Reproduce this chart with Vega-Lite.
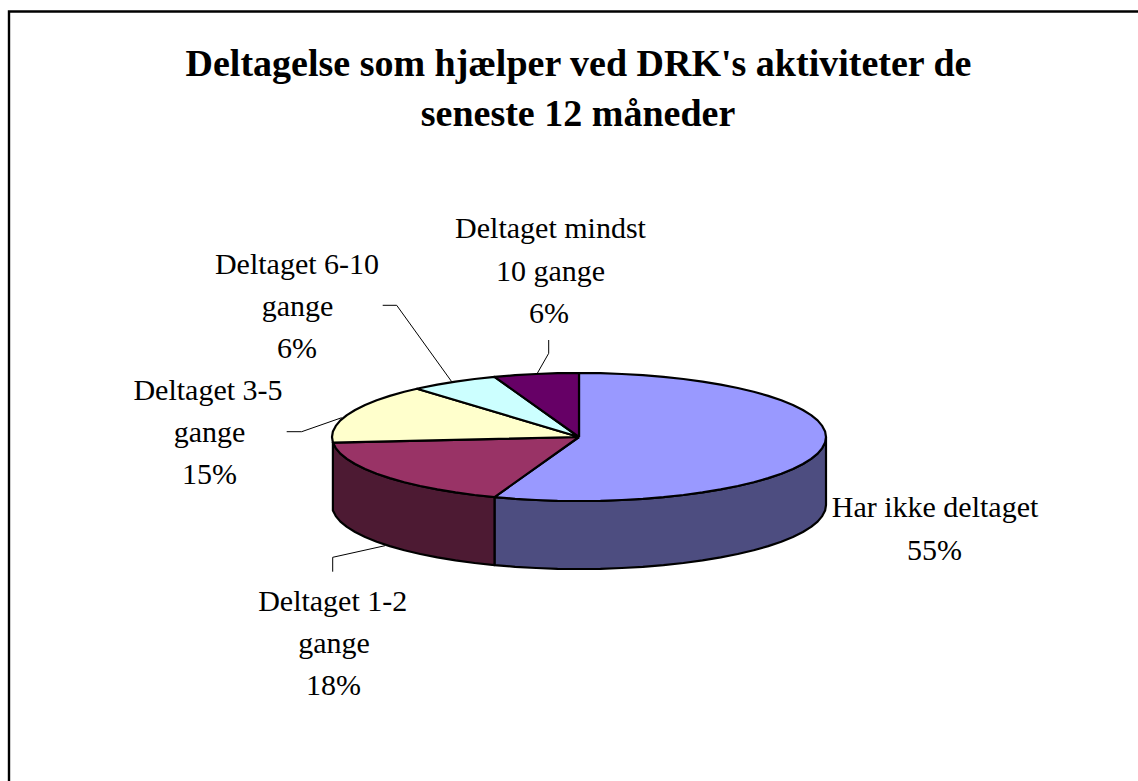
{"$schema":"https://vega.github.io/schema/vega-lite/v6.json","width":1138,"height":781,"padding":0,"autosize":{"type":"none"},"background":"white","config":{"view":{"stroke":null}},
"datasets":{
"pie":[
{"s":"side1","o":1,"x":826,"y":437},{"s":"side1","o":2,"x":825.1,"y":442.6},{"s":"side1","o":3,"x":822.2,"y":448.1},{"s":"side1","o":4,"x":817.6,"y":453.6},{"s":"side1","o":5,"x":811.1,"y":458.9},{"s":"side1","o":6,"x":802.9,"y":464},{"s":"side1","o":7,"x":792.9,"y":469},{"s":"side1","o":8,"x":781.3,"y":473.7},{"s":"side1","o":9,"x":768.2,"y":478.1},{"s":"side1","o":10,"x":753.7,"y":482.3},{"s":"side1","o":11,"x":737.8,"y":486},{"s":"side1","o":12,"x":720.7,"y":489.4},{"s":"side1","o":13,"x":702.5,"y":492.4},{"s":"side1","o":14,"x":683.4,"y":495},{"s":"side1","o":15,"x":663.5,"y":497.1},{"s":"side1","o":16,"x":642.9,"y":498.8},{"s":"side1","o":17,"x":621.9,"y":500},{"s":"side1","o":18,"x":600.5,"y":500.8},{"s":"side1","o":19,"x":579,"y":501},{"s":"side1","o":20,"x":557.5,"y":500.8},{"s":"side1","o":21,"x":536.1,"y":500},{"s":"side1","o":22,"x":515.1,"y":498.8},{"s":"side1","o":23,"x":494.5,"y":497.1},
{"s":"side1","o":24,"x":494.5,"y":565.1},{"s":"side1","o":25,"x":515.1,"y":566.8},{"s":"side1","o":26,"x":536.1,"y":568},{"s":"side1","o":27,"x":557.5,"y":568.8},{"s":"side1","o":28,"x":579,"y":569},{"s":"side1","o":29,"x":600.5,"y":568.8},{"s":"side1","o":30,"x":621.9,"y":568},{"s":"side1","o":31,"x":642.9,"y":566.8},{"s":"side1","o":32,"x":663.5,"y":565.1},{"s":"side1","o":33,"x":683.4,"y":563},{"s":"side1","o":34,"x":702.5,"y":560.4},{"s":"side1","o":35,"x":720.7,"y":557.4},{"s":"side1","o":36,"x":737.8,"y":554},{"s":"side1","o":37,"x":753.7,"y":550.3},{"s":"side1","o":38,"x":768.2,"y":546.1},{"s":"side1","o":39,"x":781.3,"y":541.7},{"s":"side1","o":40,"x":792.9,"y":537},{"s":"side1","o":41,"x":802.9,"y":532},{"s":"side1","o":42,"x":811.1,"y":526.9},{"s":"side1","o":43,"x":817.6,"y":521.6},{"s":"side1","o":44,"x":822.2,"y":516.1},{"s":"side1","o":45,"x":825.1,"y":510.6},{"s":"side1","o":46,"x":826,"y":505},{"s":"side1","o":47,"x":826,"y":437},
{"s":"side2","o":1,"x":494.5,"y":497.1},{"s":"side2","o":2,"x":474.6,"y":495},{"s":"side2","o":3,"x":455.5,"y":492.4},{"s":"side2","o":4,"x":437.3,"y":489.4},{"s":"side2","o":5,"x":420.2,"y":486},{"s":"side2","o":6,"x":404.3,"y":482.3},{"s":"side2","o":7,"x":389.8,"y":478.1},{"s":"side2","o":8,"x":376.7,"y":473.7},{"s":"side2","o":9,"x":365.1,"y":469},{"s":"side2","o":10,"x":355.1,"y":464},{"s":"side2","o":11,"x":346.9,"y":458.9},{"s":"side2","o":12,"x":340.4,"y":453.6},{"s":"side2","o":13,"x":335.8,"y":448.1},{"s":"side2","o":14,"x":332.9,"y":442.6},{"s":"side2","o":15,"x":332.9,"y":510.6},{"s":"side2","o":16,"x":335.8,"y":516.1},{"s":"side2","o":17,"x":340.4,"y":521.6},{"s":"side2","o":18,"x":346.9,"y":526.9},{"s":"side2","o":19,"x":355.1,"y":532},{"s":"side2","o":20,"x":365.1,"y":537},{"s":"side2","o":21,"x":376.7,"y":541.7},{"s":"side2","o":22,"x":389.8,"y":546.1},{"s":"side2","o":23,"x":404.3,"y":550.3},{"s":"side2","o":24,"x":420.2,"y":554},{"s":"side2","o":25,"x":437.3,"y":557.4},{"s":"side2","o":26,"x":455.5,"y":560.4},{"s":"side2","o":27,"x":474.6,"y":563},{"s":"side2","o":28,"x":494.5,"y":565.1},{"s":"side2","o":29,"x":494.5,"y":497.1},
{"s":"Har ikke deltaget","o":1,"x":579,"y":437},{"s":"Har ikke deltaget","o":2,"x":579,"y":373},{"s":"Har ikke deltaget","o":3,"x":600.5,"y":373.2},{"s":"Har ikke deltaget","o":4,"x":621.9,"y":374},{"s":"Har ikke deltaget","o":5,"x":642.9,"y":375.2},{"s":"Har ikke deltaget","o":6,"x":663.5,"y":376.9},{"s":"Har ikke deltaget","o":7,"x":683.4,"y":379},{"s":"Har ikke deltaget","o":8,"x":702.5,"y":381.6},{"s":"Har ikke deltaget","o":9,"x":720.7,"y":384.6},{"s":"Har ikke deltaget","o":10,"x":737.8,"y":388},{"s":"Har ikke deltaget","o":11,"x":753.7,"y":391.7},{"s":"Har ikke deltaget","o":12,"x":768.2,"y":395.9},{"s":"Har ikke deltaget","o":13,"x":781.3,"y":400.3},{"s":"Har ikke deltaget","o":14,"x":792.9,"y":405},{"s":"Har ikke deltaget","o":15,"x":802.9,"y":410},{"s":"Har ikke deltaget","o":16,"x":811.1,"y":415.1},{"s":"Har ikke deltaget","o":17,"x":817.6,"y":420.4},{"s":"Har ikke deltaget","o":18,"x":822.2,"y":425.9},{"s":"Har ikke deltaget","o":19,"x":825.1,"y":431.4},{"s":"Har ikke deltaget","o":20,"x":826,"y":437},{"s":"Har ikke deltaget","o":21,"x":825.1,"y":442.6},{"s":"Har ikke deltaget","o":22,"x":822.2,"y":448.1},{"s":"Har ikke deltaget","o":23,"x":817.6,"y":453.6},{"s":"Har ikke deltaget","o":24,"x":811.1,"y":458.9},{"s":"Har ikke deltaget","o":25,"x":802.9,"y":464},{"s":"Har ikke deltaget","o":26,"x":792.9,"y":469},{"s":"Har ikke deltaget","o":27,"x":781.3,"y":473.7},{"s":"Har ikke deltaget","o":28,"x":768.2,"y":478.1},{"s":"Har ikke deltaget","o":29,"x":753.7,"y":482.3},{"s":"Har ikke deltaget","o":30,"x":737.8,"y":486},{"s":"Har ikke deltaget","o":31,"x":720.7,"y":489.4},{"s":"Har ikke deltaget","o":32,"x":702.5,"y":492.4},{"s":"Har ikke deltaget","o":33,"x":683.4,"y":495},{"s":"Har ikke deltaget","o":34,"x":663.5,"y":497.1},{"s":"Har ikke deltaget","o":35,"x":642.9,"y":498.8},{"s":"Har ikke deltaget","o":36,"x":621.9,"y":500},{"s":"Har ikke deltaget","o":37,"x":600.5,"y":500.8},{"s":"Har ikke deltaget","o":38,"x":579,"y":501},{"s":"Har ikke deltaget","o":39,"x":557.5,"y":500.8},{"s":"Har ikke deltaget","o":40,"x":536.1,"y":500},{"s":"Har ikke deltaget","o":41,"x":515.1,"y":498.8},{"s":"Har ikke deltaget","o":42,"x":494.5,"y":497.1},{"s":"Har ikke deltaget","o":43,"x":579,"y":437},
{"s":"Deltaget 1-2 gange","o":1,"x":579,"y":437},{"s":"Deltaget 1-2 gange","o":2,"x":494.5,"y":497.1},{"s":"Deltaget 1-2 gange","o":3,"x":474.6,"y":495},{"s":"Deltaget 1-2 gange","o":4,"x":455.5,"y":492.4},{"s":"Deltaget 1-2 gange","o":5,"x":437.3,"y":489.4},{"s":"Deltaget 1-2 gange","o":6,"x":420.2,"y":486},{"s":"Deltaget 1-2 gange","o":7,"x":404.3,"y":482.3},{"s":"Deltaget 1-2 gange","o":8,"x":389.8,"y":478.1},{"s":"Deltaget 1-2 gange","o":9,"x":376.7,"y":473.7},{"s":"Deltaget 1-2 gange","o":10,"x":365.1,"y":469},{"s":"Deltaget 1-2 gange","o":11,"x":355.1,"y":464},{"s":"Deltaget 1-2 gange","o":12,"x":346.9,"y":458.9},{"s":"Deltaget 1-2 gange","o":13,"x":340.4,"y":453.6},{"s":"Deltaget 1-2 gange","o":14,"x":335.8,"y":448.1},{"s":"Deltaget 1-2 gange","o":15,"x":332.9,"y":442.6},{"s":"Deltaget 1-2 gange","o":16,"x":579,"y":437},
{"s":"Deltaget 3-5 gange","o":1,"x":579,"y":437},{"s":"Deltaget 3-5 gange","o":2,"x":332.9,"y":442.6},{"s":"Deltaget 3-5 gange","o":3,"x":332,"y":437},{"s":"Deltaget 3-5 gange","o":4,"x":332.9,"y":431.4},{"s":"Deltaget 3-5 gange","o":5,"x":335.8,"y":425.9},{"s":"Deltaget 3-5 gange","o":6,"x":340.4,"y":420.4},{"s":"Deltaget 3-5 gange","o":7,"x":346.9,"y":415.1},{"s":"Deltaget 3-5 gange","o":8,"x":355.1,"y":410},{"s":"Deltaget 3-5 gange","o":9,"x":365.1,"y":405},{"s":"Deltaget 3-5 gange","o":10,"x":376.7,"y":400.3},{"s":"Deltaget 3-5 gange","o":11,"x":389.8,"y":395.9},{"s":"Deltaget 3-5 gange","o":12,"x":404.3,"y":391.7},{"s":"Deltaget 3-5 gange","o":13,"x":417,"y":388.7},{"s":"Deltaget 3-5 gange","o":14,"x":579,"y":437},
{"s":"Deltaget 6-10 gange","o":1,"x":579,"y":437},{"s":"Deltaget 6-10 gange","o":2,"x":417,"y":388.7},{"s":"Deltaget 6-10 gange","o":3,"x":420.2,"y":388},{"s":"Deltaget 6-10 gange","o":4,"x":437.3,"y":384.6},{"s":"Deltaget 6-10 gange","o":5,"x":455.5,"y":381.6},{"s":"Deltaget 6-10 gange","o":6,"x":474.6,"y":379},{"s":"Deltaget 6-10 gange","o":7,"x":494.5,"y":376.9},{"s":"Deltaget 6-10 gange","o":8,"x":579,"y":437},
{"s":"Deltaget mindst 10 gange","o":1,"x":579,"y":437},{"s":"Deltaget mindst 10 gange","o":2,"x":494.5,"y":376.9},{"s":"Deltaget mindst 10 gange","o":3,"x":515.1,"y":375.2},{"s":"Deltaget mindst 10 gange","o":4,"x":536.1,"y":374},{"s":"Deltaget mindst 10 gange","o":5,"x":557.5,"y":373.2},{"s":"Deltaget mindst 10 gange","o":6,"x":579,"y":373},{"s":"Deltaget mindst 10 gange","o":7,"x":579,"y":437}
],
"leaders":[
{"s":"a","o":1,"x":382.7,"y":305.3},{"s":"a","o":2,"x":396.7,"y":305.3},{"s":"a","o":3,"x":451.7,"y":381.7},
{"s":"b","o":1,"x":548.7,"y":340},{"s":"b","o":2,"x":548.7,"y":353.3},{"s":"b","o":3,"x":537.3,"y":373.3},
{"s":"c","o":1,"x":286.7,"y":431.7},{"s":"c","o":2,"x":301.7,"y":431.7},{"s":"c","o":3,"x":341.7,"y":417.7},
{"s":"d","o":1,"x":332.7,"y":571.7},{"s":"d","o":2,"x":332.7,"y":557.3},{"s":"d","o":3,"x":385,"y":545.7}
],
"frame":[{"o":1,"x":9,"y":781},{"o":2,"x":9,"y":11.5},{"o":3,"x":1138,"y":11.5}],
"labels":[
{"t":"Deltaget mindst","x":550.5,"y":238.3},{"t":"10 gange","x":550.5,"y":280.7},{"t":"6%","x":549,"y":322.7},
{"t":"Deltaget 6-10","x":297,"y":274.3},{"t":"gange","x":297.5,"y":316},{"t":"6%","x":297,"y":357.7},
{"t":"Deltaget 3-5","x":208,"y":400},{"t":"gange","x":209.5,"y":441.7},{"t":"15%","x":209.5,"y":484},
{"t":"Deltaget 1-2","x":332.7,"y":611},{"t":"gange","x":334,"y":653},{"t":"18%","x":333.5,"y":695},
{"t":"Har ikke deltaget","x":935,"y":516.5},{"t":"55%","x":934.5,"y":559.5}
],
"titles":[{"t":"Deltagelse som hjælper ved DRK's aktiviteter de","x":578.5,"y":76},{"t":"seneste 12 måneder","x":578,"y":126}]
},
"encoding":{
"x":{"field":"x","type":"quantitative","scale":{"domain":[0,1138],"nice":false,"zero":false},"axis":null},
"y":{"field":"y","type":"quantitative","scale":{"domain":[781,0],"nice":false,"zero":false},"axis":null}
},
"layer":[
{"data":{"name":"frame"},"mark":{"type":"line","stroke":"black","strokeWidth":2.4,"clip":true},"encoding":{"order":{"field":"o"}}},
{"data":{"name":"leaders"},"mark":{"type":"line","stroke":"black","strokeWidth":1},"encoding":{"detail":{"field":"s"},"order":{"field":"o"}}},
{"data":{"name":"pie"},"mark":{"type":"line","stroke":"black","strokeWidth":2.2,"strokeJoin":"round"},"encoding":{"order":{"field":"o"},
"fill":{"field":"s","type":"nominal","legend":null,"scale":{"domain":["side1","side2","Har ikke deltaget","Deltaget 1-2 gange","Deltaget 3-5 gange","Deltaget 6-10 gange","Deltaget mindst 10 gange"],"range":["#4D4D80","#4D1A33","#9999FF","#993366","#FFFFCC","#CCFFFF","#660066"]}},
"detail":{"field":"s"}}},
{"data":{"name":"labels"},"mark":{"type":"text","font":"Liberation Serif","fontSize":30,"align":"center","baseline":"alphabetic","color":"black"},"encoding":{"text":{"field":"t"}}},
{"data":{"name":"titles"},"mark":{"type":"text","font":"Liberation Serif","fontSize":38,"fontWeight":"bold","align":"center","baseline":"alphabetic","color":"black"},"encoding":{"text":{"field":"t"}}}
]}
